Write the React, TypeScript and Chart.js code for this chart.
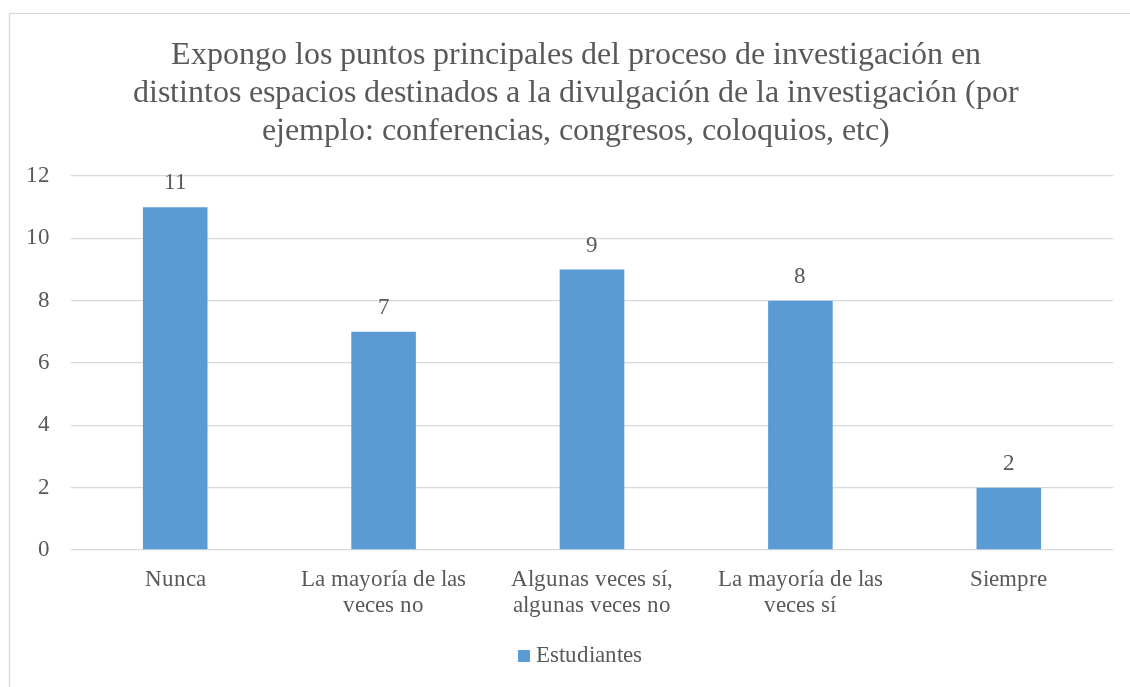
import React, { useEffect, useRef } from "react";
import { Chart, registerables } from "chart.js";

Chart.register(...registerables);

const titleLines = [
  "Expongo los puntos principales del proceso de investigación en",
  "distintos espacios destinados a la divulgación de la investigación (por",
  "ejemplo: conferencias, congresos, coloquios, etc)",
];
const categories: (string | string[])[] = [
  "Nunca",
  ["La mayoría de las", "veces no"],
  ["Algunas veces sí,", "algunas veces no"],
  ["La mayoría de las", "veces sí"],
  "Siempre",
];
const seriesName = "Estudiantes";
const values = [11, 7, 9, 8, 2];
const yMin = 0;
const yMax = 12;
const yStep = 2;

const FONT = "TimesLocal, 'Liberation Serif', 'Times New Roman', 'DejaVu Serif', serif";
const TEXT = "#595959";
const GRID = "#d9d9d9";
const BAR = "#5B9BD5";

function ensureFontFace() {
  if (document.getElementById("times-local-face")) return;
  const st = document.createElement("style");
  st.id = "times-local-face";
  st.textContent = `@font-face { font-family: 'TimesLocal'; src: local('Liberation Serif'), local('LiberationSerif'), local('LiberationSerif-Regular'), local('Times New Roman'), local('DejaVu Serif'), local('DejaVuSerif'); }`;
  document.head.appendChild(st);
}

export default function App() {
  const ref = useRef<HTMLCanvasElement | null>(null);

  useEffect(() => {
    if (!ref.current) return;
    ensureFontFace();
    let chart: any = null;
    let cancelled = false;

    const framePlugin = {
      id: "frame",
      beforeDraw(c: any) {
        const ctx = c.ctx;
        ctx.save();
        ctx.fillStyle = "#ffffff";
        ctx.fillRect(0, 0, c.width, c.height);
        ctx.strokeStyle = GRID;
        ctx.lineWidth = 1.3;
        ctx.strokeRect(9.5, 13.5, c.width + 50, c.height + 50);
        ctx.restore();
      },
    };

    const titlePlugin = {
      id: "centeredTitle",
      afterDraw(c: any) {
        const ctx = c.ctx;
        ctx.save();
        ctx.font = `32px ${FONT}`;
        ctx.fillStyle = TEXT;
        ctx.textAlign = "center";
        ctx.textBaseline = "middle";
        titleLines.forEach((line, i) => {
          ctx.fillText(line, 576, 56 + i * 38);
        });
        ctx.restore();
      },
    };

    const labelPlugin = {
      id: "valueLabels",
      afterDatasetsDraw(c: any) {
        const ctx = c.ctx;
        const meta = c.getDatasetMeta(0);
        ctx.save();
        ctx.font = `23px ${FONT}`;
        ctx.fillStyle = TEXT;
        ctx.textAlign = "center";
        ctx.textBaseline = "middle";
        meta.data.forEach((el: any, i: number) => {
          ctx.fillText(String(values[i]), el.x, el.y - 24);
        });
        ctx.restore();
      },
    };

    const legendPlugin = {
      id: "customLegend",
      afterDraw(c: any) {
        const ctx = c.ctx;
        ctx.save();
        ctx.font = `23px ${FONT}`;
        const tw = ctx.measureText(seriesName).width;
        const box = 12;
        const gap = 6;
        const total = box + gap + tw;
        const cx = 580;
        const x0 = cx - total / 2;
        const y = 656;
        ctx.fillStyle = BAR;
        ctx.fillRect(x0, y - box / 2, box, box);
        ctx.fillStyle = TEXT;
        ctx.textAlign = "left";
        ctx.textBaseline = "middle";
        ctx.fillText(seriesName, x0 + box + gap, y);
        ctx.restore();
      },
    };

    const build = () => {
      if (cancelled || !ref.current) return;
      chart = new Chart(ref.current, {
        type: "bar",
        data: {
          labels: categories,
          datasets: [
            {
              label: seriesName,
              data: values,
              backgroundColor: BAR,
              borderWidth: 0,
              barPercentage: 0.31,
              categoryPercentage: 1,
            },
          ],
        },
        options: {
          responsive: false,
          animation: false,
          devicePixelRatio: 1,
          layout: { padding: { left: 0, right: 17, top: 176, bottom: 57 } },
          plugins: {
            legend: { display: false },
            tooltip: { enabled: false },
            title: { display: false },
          },
          scales: {
            x: {
              grid: { display: false },
              border: { display: false },
              ticks: {
                color: TEXT,
                font: { family: FONT, size: 23, lineHeight: 1.17 },
                padding: 8,
                maxRotation: 0,
                autoSkip: false,
              },
              afterFit(scale: any) {
                scale.height = 80;
              },
            },
            y: {
              min: yMin,
              max: yMax,
              border: { display: false },
              grid: { color: GRID, lineWidth: 1.3, drawTicks: false },
              ticks: {
                stepSize: yStep,
                color: TEXT,
                font: { family: FONT, size: 23 },
                padding: 21,
              },
              afterFit(scale: any) {
                scale.width = 71;
              },
            },
          },
        },
        plugins: [framePlugin, titlePlugin, labelPlugin, legendPlugin],
      });
    };

    const loads = [
      document.fonts.load("23px TimesLocal"),
      document.fonts.load("23px 'Liberation Serif'"),
    ];
    Promise.all(loads).then(build, build);

    return () => {
      cancelled = true;
      if (chart) chart.destroy();
    };
  }, []);

  return (
    <div style={{ position: "fixed", left: 0, top: 0, width: 1130, height: 687 }}>
      <span style={{ fontFamily: FONT, position: "absolute", left: -9999, top: 0 }}>Aa</span>
      <canvas ref={ref} width={1130} height={687} style={{ display: "block" }} />
    </div>
  );
}
